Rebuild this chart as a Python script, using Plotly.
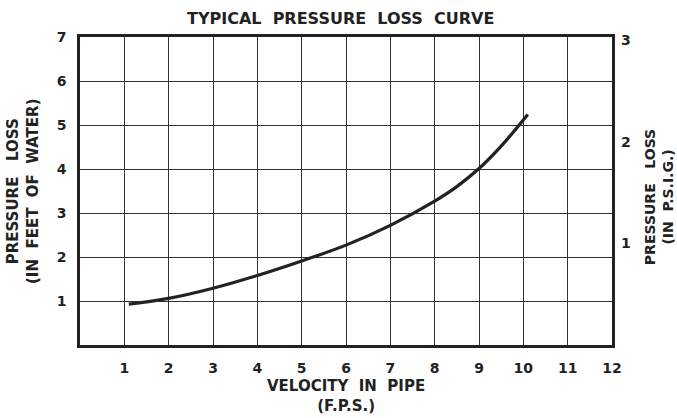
import plotly.graph_objects as go

# Data
velocity_fps = [1.1, 2, 3, 4, 5, 6, 7, 8, 8.5, 9, 9.5, 10.1]
loss_ft_water = [0.93, 1.06, 1.29, 1.58, 1.91, 2.27, 2.72, 3.27, 3.6, 4.01, 4.52, 5.24]
x_ticks = [1, 2, 3, 4, 5, 6, 7, 8, 9, 10, 11, 12]
y_left_ticks = [1, 2, 3, 4, 5, 6, 7]
y_right_ticks = [1, 2, 3]
FT_PER_PSI = 2.31

FONT = "DejaVu Sans"
INK = "#222222"

fig = go.Figure()
fig.add_trace(go.Scatter(
    x=velocity_fps, y=loss_ft_water, mode="lines",
    line=dict(color=INK, width=3.2, shape="spline", smoothing=1.0),
    hoverinfo="skip", showlegend=False))
# invisible trace so the right-hand axis is drawn
fig.add_trace(go.Scatter(
    x=[velocity_fps[0]], y=[loss_ft_water[0] / FT_PER_PSI], yaxis="y2",
    mode="markers", marker=dict(opacity=0), hoverinfo="skip", showlegend=False))

tickfont = dict(family=FONT, size=14, color=INK, weight="bold")
labfont = dict(family=FONT, size=15, color=INK, weight="bold")

fig.update_layout(
    width=677, height=418,
    margin=dict(l=80, r=65, t=37, b=73),
    paper_bgcolor="white", plot_bgcolor="white",
    xaxis=dict(range=[0, 12], tickvals=x_ticks, showgrid=True,
               gridcolor="#333333", gridwidth=1.4, zeroline=False,
               showline=True, linecolor=INK, linewidth=2.5, mirror=True,
               ticks="", ticklabelstandoff=8, tickfont=tickfont,
               fixedrange=True),
    yaxis=dict(range=[0, 7], tickvals=y_left_ticks, showgrid=True,
               gridcolor="#333333", gridwidth=1.4, zeroline=False,
               showline=True, linecolor=INK, linewidth=2.5, mirror=True,
               ticks="", ticklabelstandoff=8, tickfont=tickfont,
               fixedrange=True),
    yaxis2=dict(range=[0, 7 / FT_PER_PSI], tickvals=y_right_ticks,
                overlaying="y", side="right", showgrid=False, zeroline=False,
                showline=False, ticks="", ticklabelstandoff=8,
                tickfont=tickfont, fixedrange=True),
    font=dict(family=FONT, color=INK),
    annotations=[
        dict(text="TYPICAL  PRESSURE  LOSS  CURVE", xref="paper", yref="paper",
             x=0.49, y=1, yshift=19, showarrow=False, yanchor="middle",
             font=dict(family=FONT, size=16, color=INK, weight="bold")),
        dict(text="VELOCITY  IN  PIPE<br>(F.P.S.)", xref="paper", yref="paper",
             x=0.5, y=0, yshift=-51, showarrow=False, yanchor="middle",
             font=labfont),
        dict(text="PRESSURE   LOSS<br>(IN  FEET  OF  WATER)", xref="paper", yref="paper",
             x=0, y=0.5, xshift=-57, showarrow=False, textangle=-90,
             xanchor="center", yanchor="middle", font=labfont),
        dict(text="PRESSURE   LOSS<br>(IN  P.S.I.G.)", xref="paper", yref="paper",
             x=1, y=0.48, xshift=47, showarrow=False, textangle=-90,
             xanchor="center", yanchor="middle",
             font=dict(family=FONT, size=14, color=INK, weight="bold")),
    ],
)

fig.write_html("out.html",
               config={"displayModeBar": False},
               post_script="document.body.style.margin='0';document.body.style.overflow='hidden';")
